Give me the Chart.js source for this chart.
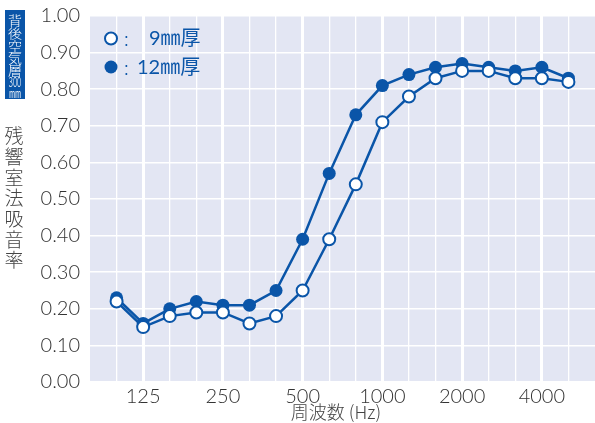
<!DOCTYPE html>
<html>
<head>
<meta charset="utf-8">
<script src="https://cdn.jsdelivr.net/npm/chart.js@4/dist/chart.umd.min.js"></script>
<style>
  html, body { margin: 0; padding: 0; background: #fff; }
  canvas { display: block; }
</style>
</head>
<body>
<canvas id="chart" width="595" height="423"></canvas>
<script>
// 1/3 octave band centre frequencies (Hz)
const frequencies = ['100', '125', '160', '200', '250', '315', '400', '500', '630',
  '800', '1000', '1250', '1600', '2000', '2500', '3150', '4000', '5000'];
const tickLabels = ['125', '250', '500', '1000', '2000', '4000'];
const yTicks = [0, 0.1, 0.2, 0.3, 0.4, 0.5, 0.6, 0.7, 0.8, 0.9, 1.0];

const absorb9mm = [0.22, 0.15, 0.18, 0.19, 0.19, 0.16, 0.18, 0.25, 0.39,
  0.54, 0.71, 0.78, 0.83, 0.85, 0.85, 0.83, 0.83, 0.82];
const absorb12mm = [0.23, 0.16, 0.20, 0.22, 0.21, 0.21, 0.25, 0.39, 0.57,
  0.73, 0.81, 0.84, 0.86, 0.87, 0.86, 0.85, 0.86, 0.83];

const legendLabels = ['9㎜厚', '12㎜厚'];
const yTitle = '残響室法吸音率';
const xTitle = '周波数 (Hz)';
const boxLabel = ['背', '後', '空', '気', '層', '300', '㎜'];

const BLUE = '#0a55a8';
const FONT = '"Noto Sans CJK JP", "Noto Sans", sans-serif';
const NUM_FONT = 'Lato, "Noto Sans CJK JP", sans-serif';

const toPoints = arr => arr.map((v, i) => ({ x: i, y: v }));
const isMajor = v => tickLabels.includes(frequencies[v]);

const decorations = {
  id: 'decorations',
  beforeDraw(chart) {
    const { ctx, chartArea: a } = chart;
    ctx.save();
    ctx.fillStyle = '#e3e6f3';
    ctx.fillRect(a.left, a.top, a.right - a.left, a.bottom - a.top);
    ctx.restore();
  },
  afterDraw(chart) {
    const { ctx } = chart;
    ctx.save();

    // vertical y-axis title, stacked characters
    ctx.fillStyle = '#444';
    ctx.font = '300 19px ' + FONT;
    ctx.textAlign = 'center';
    ctx.textBaseline = 'middle';
    [...yTitle].forEach((ch, i) => ctx.fillText(ch, 14, 136 + i * 20.7));

    // x-axis title
    ctx.font = '300 18px ' + FONT;
    ctx.fillText(xTitle, 336, 412);

    // blue box top-left
    ctx.fillStyle = BLUE;
    ctx.fillRect(5, 10, 20, 89);
    ctx.fillStyle = '#fff';
    const ys = [20, 33, 46, 58, 70, 82, 93];
    boxLabel.forEach((s, i) => {
      ctx.font = '300 14px ' + FONT;
      if (s === '300') {
        ctx.save();
        ctx.translate(15, ys[i]);
        ctx.scale(0.6, 1);
        ctx.font = '300 13px ' + FONT;
        ctx.fillText(s, 0, 0);
        ctx.restore();
      } else if (s === '㎜') {
        ctx.font = '300 12px ' + FONT;
        ctx.fillText(s, 15, ys[i]);
      } else {
        ctx.save();
        ctx.translate(15, ys[i]);
        ctx.scale(1, 0.9);
        ctx.fillText(s, 0, 0);
        ctx.restore();
      }
    });

    // legend inside the plot
    ctx.lineWidth = 2;
    ctx.strokeStyle = BLUE;
    ctx.fillStyle = '#fff';
    ctx.beginPath();
    ctx.arc(111, 38.5, 6, 0, Math.PI * 2);
    ctx.fill();
    ctx.stroke();
    ctx.fillStyle = BLUE;
    ctx.beginPath();
    ctx.arc(111, 67, 6.5, 0, Math.PI * 2);
    ctx.fill();

    ctx.font = '300 19px ' + FONT;
    ctx.textAlign = 'left';
    ctx.fillText(':', 124, 39);
    ctx.fillText(':', 124, 68);
    ctx.font = '20px ' + NUM_FONT;
    ctx.fillText(legendLabels[0], 149, 39);
    ctx.fillText(legendLabels[1], 137, 68);

    ctx.restore();
  }
};

new Chart(document.getElementById('chart'), {
  type: 'line',
  data: {
    datasets: [
      {
        label: legendLabels[0],
        data: toPoints(absorb9mm),
        borderColor: BLUE,
        borderWidth: 2.5,
        pointRadius: 6,
        pointBorderWidth: 2,
        pointBackgroundColor: '#fff',
        pointBorderColor: BLUE
      },
      {
        label: legendLabels[1],
        data: toPoints(absorb12mm),
        borderColor: BLUE,
        borderWidth: 2.5,
        pointRadius: 6.5,
        pointBorderWidth: 0,
        pointBackgroundColor: BLUE,
        pointBorderColor: BLUE
      }
    ]
  },
  options: {
    responsive: false,
    animation: false,
    layout: { autoPadding: false, padding: { top: 16, left: 0, right: 0, bottom: 0 } },
    plugins: {
      legend: { display: false },
      tooltip: { enabled: false }
    },
    scales: {
      x: {
        type: 'linear',
        min: -1,
        max: 18,
        afterFit: scale => {
          scale.height = 41;
          scale.paddingLeft = 0;
          scale.paddingRight = 0;
        },
        afterBuildTicks: scale => {
          scale.ticks = frequencies.map((f, i) => ({ value: i }));
        },
        ticks: {
          autoSkip: false,
          maxRotation: 0,
          padding: 3,
          color: '#333',
          font: { family: NUM_FONT, size: 20, weight: 300 },
          callback: v => (isMajor(v) ? frequencies[v] : '')
        },
        grid: {
          color: '#fff',
          drawTicks: false,
          lineWidth: ctx => (isMajor(ctx.tick.value) ? 3 : 1.3)
        },
        border: { display: false }
      },
      y: {
        min: 0,
        max: 1,
        afterFit: scale => {
          scale.width = 90;
          scale.paddingTop = 0;
          scale.paddingBottom = 0;
        },
        afterBuildTicks: scale => {
          scale.ticks = yTicks.map(v => ({ value: v }));
        },
        ticks: {
          padding: 10,
          color: '#333',
          font: { family: NUM_FONT, size: 20, weight: 300 },
          callback: v => v.toFixed(2)
        },
        grid: {
          color: '#fff',
          drawTicks: false,
          lineWidth: 1.5
        },
        border: { display: false }
      }
    }
  },
  plugins: [decorations]
});
</script>
</body>
</html>
